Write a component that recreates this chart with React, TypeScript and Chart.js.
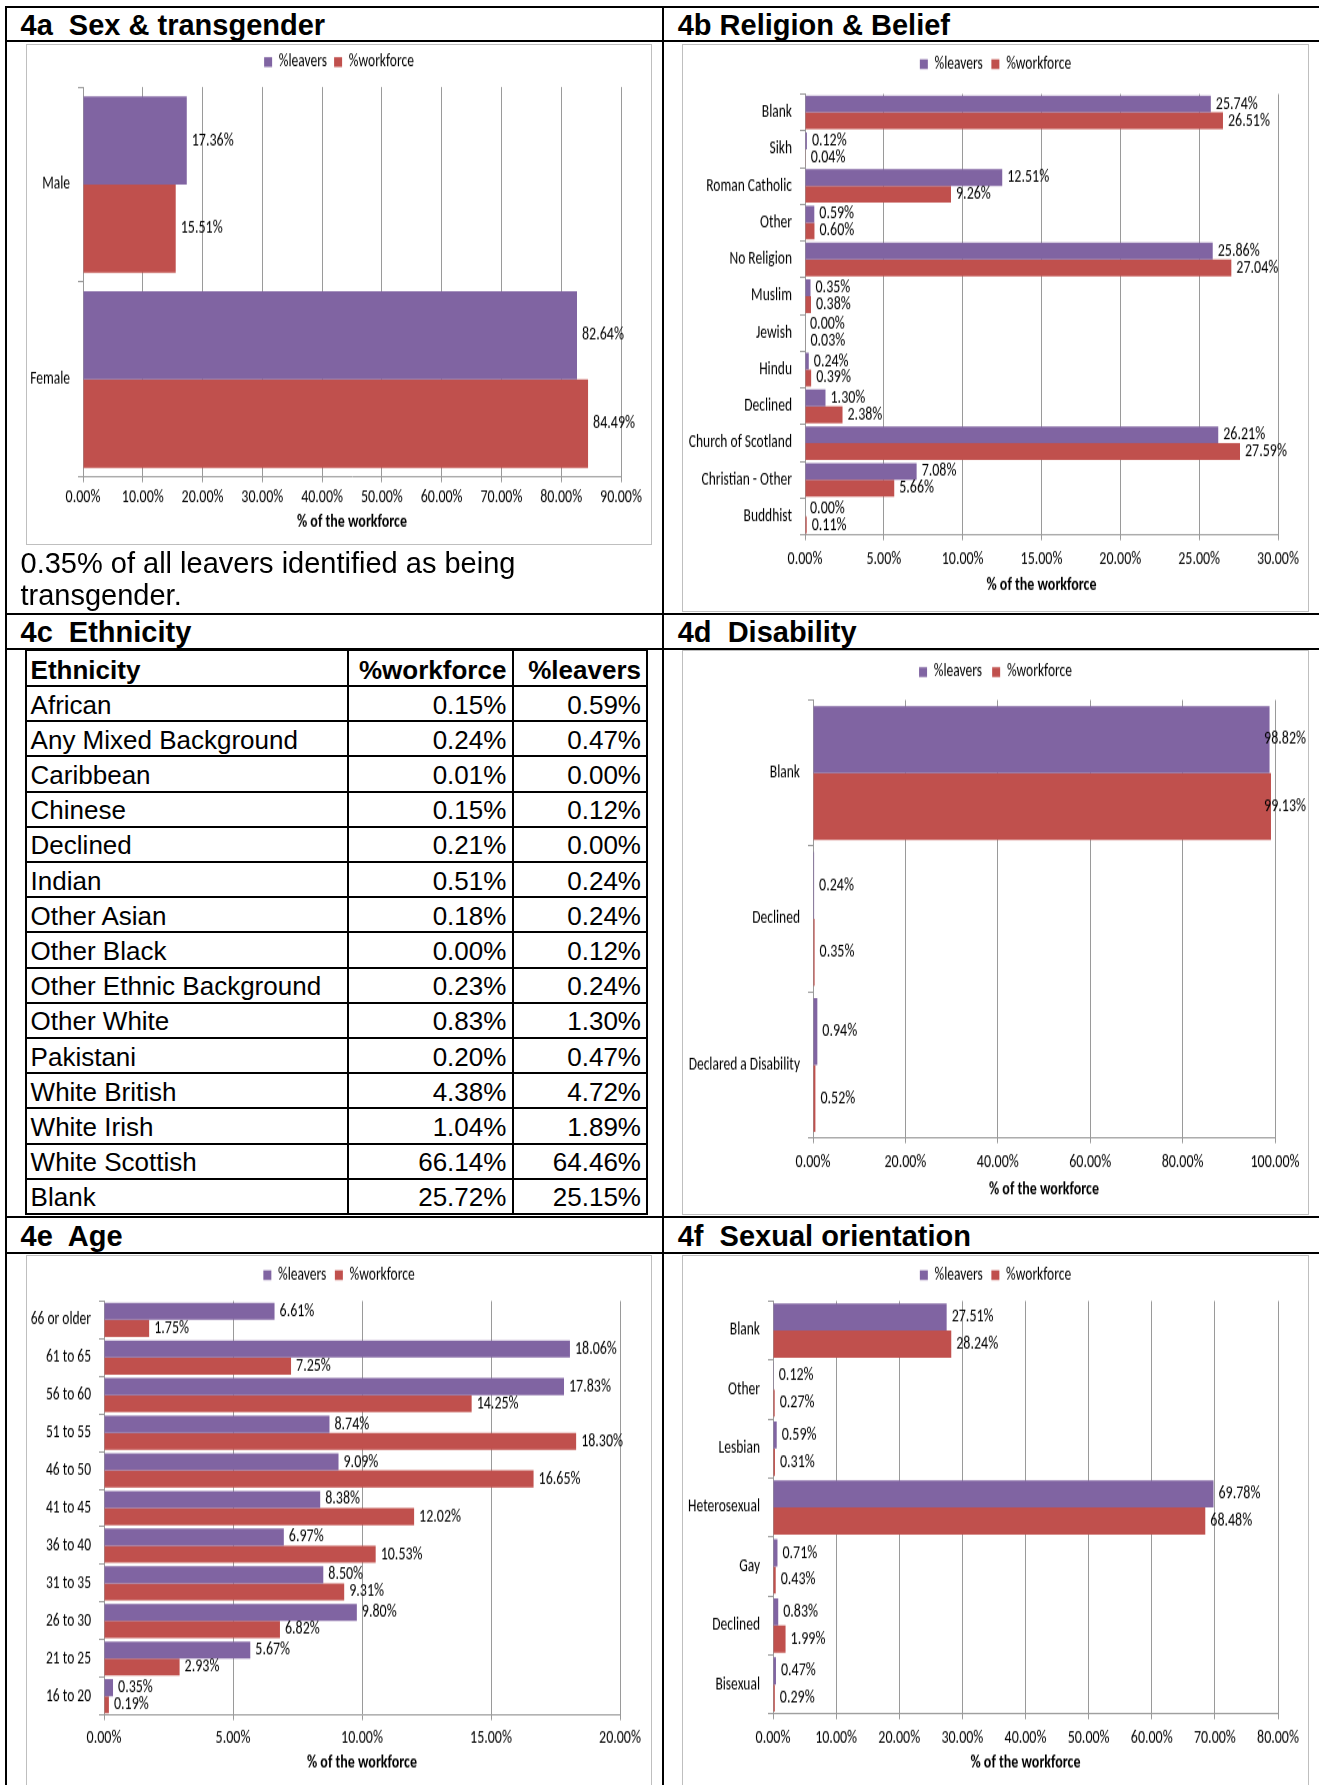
import React, { useEffect, useRef } from 'react';
import { Chart, registerables } from 'chart.js';

Chart.register(...registerables);

// ---------------- data ----------------
const SEX_LABELS = ['Male', 'Female'];
const SEX_LEAVERS = [17.36, 82.64];
const SEX_WORKFORCE = [15.51, 84.49];

const REL_LABELS = ['Blank', 'Sikh', 'Roman Catholic', 'Other', 'No Religion', 'Muslim', 'Jewish', 'Hindu', 'Declined', 'Church of Scotland', 'Christian - Other', 'Buddhist'];
const REL_LEAVERS = [25.74, 0.12, 12.51, 0.59, 25.86, 0.35, 0.0, 0.24, 1.3, 26.21, 7.08, 0.0];
const REL_WORKFORCE = [26.51, 0.04, 9.26, 0.6, 27.04, 0.38, 0.03, 0.39, 2.38, 27.59, 5.66, 0.11];

const ETH_LABELS = ['African', 'Any Mixed Background', 'Caribbean', 'Chinese', 'Declined', 'Indian', 'Other Asian', 'Other Black', 'Other Ethnic Background', 'Other White', 'Pakistani', 'White British', 'White Irish', 'White Scottish', 'Blank'];
const ETH_WORKFORCE = [0.15, 0.24, 0.01, 0.15, 0.21, 0.51, 0.18, 0.0, 0.23, 0.83, 0.2, 4.38, 1.04, 66.14, 25.72];
const ETH_LEAVERS = [0.59, 0.47, 0.0, 0.12, 0.0, 0.24, 0.24, 0.12, 0.24, 1.3, 0.47, 4.72, 1.89, 64.46, 25.15];

const DIS_LABELS = ['Blank', 'Declined', 'Declared a Disability'];
const DIS_LEAVERS = [98.82, 0.24, 0.94];
const DIS_WORKFORCE = [99.13, 0.35, 0.52];

const AGE_LABELS = ['66 or older', '61 to 65', '56 to 60', '51 to 55', '46 to 50', '41 to 45', '36 to 40', '31 to 35', '26 to 30', '21 to 25', '16 to 20'];
const AGE_LEAVERS = [6.61, 18.06, 17.83, 8.74, 9.09, 8.38, 6.97, 8.5, 9.8, 5.67, 0.35];
const AGE_WORKFORCE = [1.75, 7.25, 14.25, 18.3, 16.65, 12.02, 10.53, 9.31, 6.82, 2.93, 0.19];

const SO_LABELS = ['Blank', 'Other', 'Lesbian', 'Heterosexual', 'Gay', 'Declined', 'Bisexual'];
const SO_LEAVERS = [27.51, 0.12, 0.59, 69.78, 0.71, 0.83, 0.47];
const SO_WORKFORCE = [28.24, 0.27, 0.31, 68.48, 0.43, 1.99, 0.29];

// ---------------- styles ----------------
const LEAVERS_COLOR = '#8064A2';
const WORKFORCE_COLOR = '#C0504D';
const GRID = '#9A9A9A';
const NARROW = 'Carlito, "Liberation Sans Narrow", "DejaVu Sans Condensed", sans-serif';
const ARIAL = '"Liberation Sans", Arial, sans-serif';
const FS = 14; // x tick labels + data labels
const YS = 13.5; // category labels
const LS = 13.5; // legend
const TS = 14; // axis title
const STRETCH = 1.3; // the reference charts are vertically stretched

type Geo = {
  x: number; y: number; w: number; h: number;
  plotLeft: number; plotRight: number; plotTop: number; plotBottom: number;
  legendY: number; tickY: number; titleY: number;
};

const fixLegend = (h: number) => ({
  id: 'fixLegend',
  beforeLayout(chart: any) {
    const lg = chart.legend;
    if (lg && !lg.__patched) {
      const orig = lg.fit.bind(lg);
      lg.fit = function () {
        orig();
        this.height = h;
      };
      lg.__patched = true;
    }
  },
});

const dataLabels = {
  id: 'dataLabels',
  afterDatasetsDraw(chart: any) {
    const ctx = chart.ctx;
    ctx.save();
    ctx.font = `${FS}px ${NARROW}`;
    ctx.fillStyle = '#000';
    ctx.textBaseline = 'middle';
    ctx.textAlign = 'left';
    chart.data.datasets.forEach((ds: any, di: number) => {
      const meta = chart.getDatasetMeta(di);
      meta.data.forEach((bar: any, i: number) => {
        const txt = Number(ds.data[i]).toFixed(2) + '%';
        const w = ctx.measureText(txt).width;
        let x = bar.x + 5;
        if (x + w > chart.width - 3) x = chart.width - 3 - w;
        ctx.fillText(txt, x, bar.y);
      });
    });
    ctx.restore();
  },
};

function BarPanel(props: { labels: string[]; leavers: number[]; workforce: number[]; max: number; step: number; geo: Geo; catPct: number }) {
  const { labels, leavers, workforce, max, step, geo, catPct } = props;
  const ref = useRef<HTMLCanvasElement | null>(null);
  const H0 = Math.round(geo.h / STRETCH);
  const s = geo.h / H0;
  useEffect(() => {
    const canvas = ref.current;
    if (!canvas) return;
    const plotTop = geo.plotTop / s;
    const plotBottom = geo.plotBottom / s;
    const R = geo.w - geo.plotRight;
    const xTick = 4;
    const legendPad = geo.legendY / s - LS / 2;
    const tickPad = geo.tickY / s - plotBottom - xTick - FS * 0.6;
    const titlePad = H0 - geo.titleY / s - TS * 0.6;
    const chart = new Chart(canvas, {
      type: 'bar',
      data: {
        labels,
        datasets: [
          { label: '%leavers', data: leavers, backgroundColor: LEAVERS_COLOR, borderWidth: 0, categoryPercentage: catPct, barPercentage: 1 },
          { label: '%workforce', data: workforce, backgroundColor: WORKFORCE_COLOR, borderWidth: 0, categoryPercentage: catPct, barPercentage: 1 },
        ],
      },
      options: {
        indexAxis: 'y',
        responsive: false,
        animation: false,
        devicePixelRatio: 1,
        layout: { padding: 0 },
        plugins: {
          legend: {
            position: 'top',
            align: 'center',
            labels: { boxWidth: 8, boxHeight: 7.5, padding: legendPad, color: '#000', font: { family: NARROW, size: LS } },
          },
          tooltip: { enabled: false },
        },
        scales: {
          x: {
            min: 0,
            max,
            ticks: {
              stepSize: step,
              color: '#000',
              font: { family: NARROW, size: FS },
              padding: tickPad,
              maxRotation: 0,
              autoSkip: false,
              callback: (v: any) => Number(v).toFixed(2) + '%',
            },
            grid: { color: GRID, tickLength: xTick, lineWidth: 1 },
            border: { color: GRID },
            title: {
              display: true,
              text: '% of the workforce',
              color: '#000',
              font: { family: NARROW, size: TS, weight: 'bold' },
              padding: { top: 0, bottom: titlePad },
            },
            afterFit: (sc: any) => {
              sc.height = H0 - plotBottom;
              sc.paddingLeft = 0;
              sc.paddingRight = 0;
            },
          },
          y: {
            ticks: { color: '#000', font: { family: NARROW, size: YS }, padding: 8, autoSkip: false },
            grid: { drawOnChartArea: false, tickLength: 5, color: GRID, offset: true },
            border: { color: GRID },
            afterFit: (sc: any) => {
              sc.width = geo.plotLeft;
              sc.paddingTop = 0;
              sc.paddingBottom = 0;
            },
          },
          // empty spacer on the right so the plot ends where the reference's does
          spacer: {
            type: 'linear',
            axis: 'y',
            position: 'right',
            display: true,
            ticks: { display: false },
            grid: { display: false, drawTicks: false },
            border: { display: false },
            afterFit: (sc: any) => {
              sc.width = R;
              sc.paddingTop = 0;
              sc.paddingBottom = 0;
            },
          },
        },
      } as any,
      plugins: [fixLegend(plotTop), dataLabels],
    });
    return () => chart.destroy();
  }, []);
  return (
    <>
      <canvas
        ref={ref}
        width={geo.w}
        height={H0}
        style={{ position: 'absolute', left: geo.x, top: geo.y, width: geo.w, height: geo.h }}
      />
      <div
        style={{
          position: 'absolute', left: geo.x, top: geo.y, width: geo.w, height: geo.h,
          border: '1px solid #BFBFBF', boxSizing: 'border-box', pointerEvents: 'none',
        }}
      />
    </>
  );
}

const GEO_A: Geo = { x: 26, y: 44, w: 626, h: 501, plotLeft: 57, plotRight: 595, plotTop: 43, plotBottom: 433, legendY: 18, tickY: 453.5, titleY: 478 };
const GEO_B: Geo = { x: 682, y: 44, w: 627, h: 568, plotLeft: 123, plotRight: 596, plotTop: 50, plotBottom: 491, legendY: 20, tickY: 515.5, titleY: 541 };
const GEO_D: Geo = { x: 682, y: 650, w: 627, h: 565, plotLeft: 131, plotRight: 593, plotTop: 50, plotBottom: 488, legendY: 22, tickY: 512, titleY: 540 };
const GEO_E: Geo = { x: 26, y: 1255, w: 626, h: 545, plotLeft: 78, plotRight: 594, plotTop: 46, plotBottom: 460, legendY: 20, tickY: 483, titleY: 508 };
const GEO_F: Geo = { x: 682, y: 1255, w: 627, h: 545, plotLeft: 91, plotRight: 596, plotTop: 46, plotBottom: 459, legendY: 20, tickY: 483, titleY: 508 };

function HLine({ y, x1 = 5.4, x2 = 1319 }: { y: number; x1?: number; x2?: number }) {
  return <div style={{ position: 'absolute', left: x1, top: y - 1, width: x2 - x1, height: 2, background: '#000' }} />;
}
function VLine({ x, y1, y2 }: { x: number; y1: number; y2: number }) {
  return <div style={{ position: 'absolute', left: x - 1, top: y1, width: 2, height: y2 - y1, background: '#000' }} />;
}

function SectionTitle({ text, x, lineY }: { text: string; x: number; lineY: number }) {
  return (
    <div
      style={{
        position: 'absolute', left: x, top: lineY + 2.3, height: 32, lineHeight: '32px',
        fontFamily: ARIAL, fontWeight: 'bold', fontSize: 29, whiteSpace: 'pre', color: '#000',
      }}
    >
      {text}
    </div>
  );
}

function EthnicityTable() {
  const colX = [25.6, 348.3, 512.8, 647.4];
  const top = 650;
  const headH = 36;
  const rowH = 35.2;
  const rowY: number[] = [top, top + headH];
  for (let i = 1; i <= ETH_LABELS.length; i++) rowY.push(top + headH + rowH * i);
  const bottom = rowY[rowY.length - 1];
  const cellStyle = (y0: number, h: number): React.CSSProperties => ({
    position: 'absolute', top: y0 + 1.5, height: h, lineHeight: `${h}px`,
    fontFamily: ARIAL, fontSize: 26, color: '#000', whiteSpace: 'pre',
  });
  const fmt = (v: number) => v.toFixed(2) + '%';
  const rows = [
    { a: 'Ethnicity', b: '%workforce', c: '%leavers', bold: true },
    ...ETH_LABELS.map((l, i) => ({ a: l, b: fmt(ETH_WORKFORCE[i]), c: fmt(ETH_LEAVERS[i]), bold: false })),
  ];
  return (
    <>
      {rowY.map((y, i) => (
        <HLine key={'h' + i} y={y} x1={colX[0] - 1} x2={colX[3] + 1} />
      ))}
      {colX.map((x, i) => (
        <VLine key={'v' + i} x={x} y1={top - 1} y2={bottom + 1} />
      ))}
      {rows.map((r, i) => {
        const y0 = rowY[i];
        const h = rowY[i + 1] - rowY[i];
        const fw = r.bold ? 'bold' : 'normal';
        return (
          <React.Fragment key={'r' + i}>
            <div style={{ ...cellStyle(y0, h), left: colX[0] + 5, fontWeight: fw }}>{r.a}</div>
            <div style={{ ...cellStyle(y0, h), left: colX[1], width: colX[2] - colX[1] - 6.4, textAlign: 'right', fontWeight: fw }}>{r.b}</div>
            <div style={{ ...cellStyle(y0, h), left: colX[2], width: colX[3] - colX[2] - 6.4, textAlign: 'right', fontWeight: fw }}>{r.c}</div>
          </React.Fragment>
        );
      })}
    </>
  );
}

export default function App() {
  return (
    <div style={{ position: 'absolute', left: 0, top: 0, width: 1319, height: 1785, overflow: 'hidden', background: '#fff' }}>
      {/* outer grid */}
      <HLine y={6.7} />
      <HLine y={40.7} />
      <HLine y={613.7} />
      <HLine y={648.9} />
      <HLine y={1217.3} />
      <HLine y={1253.3} />
      <VLine x={6.4} y1={5.7} y2={1785} />
      <VLine x={663} y1={5.7} y2={1785} />

      <SectionTitle text="4a  Sex & transgender" x={20.5} lineY={6.7} />
      <SectionTitle text="4b Religion & Belief" x={677.7} lineY={6.7} />
      <SectionTitle text="4c  Ethnicity" x={20.5} lineY={613.7} />
      <SectionTitle text="4d  Disability" x={677.7} lineY={613.7} />
      <SectionTitle text="4e  Age" x={20.5} lineY={1217.3} />
      <SectionTitle text="4f  Sexual orientation" x={677.7} lineY={1217.3} />

      <BarPanel labels={SEX_LABELS} leavers={SEX_LEAVERS} workforce={SEX_WORKFORCE} max={90} step={10} geo={GEO_A} catPct={0.905} />
      <div
        style={{
          position: 'absolute', left: 20.5, top: 547, width: 630, lineHeight: '32px',
          fontFamily: ARIAL, fontSize: 29, color: '#000',
        }}
      >
        0.35% of all leavers identified as being
        <br />
        transgender.
      </div>

      <BarPanel labels={REL_LABELS} leavers={REL_LEAVERS} workforce={REL_WORKFORCE} max={30} step={5} geo={GEO_B} catPct={0.915} />

      <EthnicityTable />

      <BarPanel labels={DIS_LABELS} leavers={DIS_LEAVERS} workforce={DIS_WORKFORCE} max={100} step={20} geo={GEO_D} catPct={0.916} />

      <BarPanel labels={AGE_LABELS} leavers={AGE_LEAVERS} workforce={AGE_WORKFORCE} max={20} step={5} geo={GEO_E} catPct={0.907} />

      <BarPanel labels={SO_LABELS} leavers={SO_LEAVERS} workforce={SO_WORKFORCE} max={80} step={10} geo={GEO_F} catPct={0.92} />
    </div>
  );
}
